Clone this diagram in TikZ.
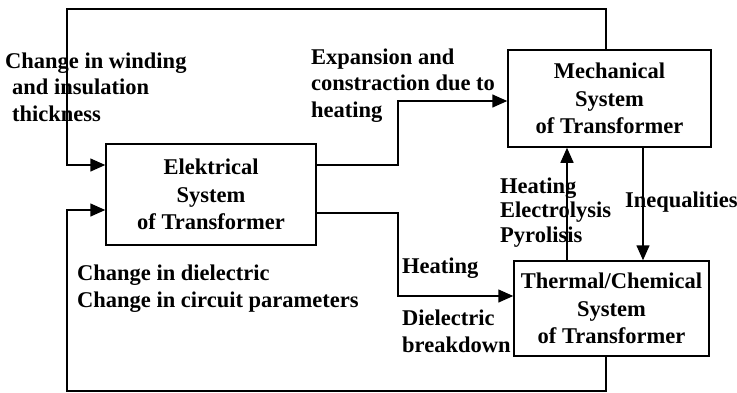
\documentclass[tikz,border=0pt]{standalone}
\usepackage{fontspec}
\setmainfont{Liberation Serif}
\usetikzlibrary{arrows.meta}
\tikzset{
  sysbox/.style={draw, line width=1.5pt, align=center, inner sep=0pt,
    font=\fontsize{22.5}{27.5}\selectfont\bfseries},
  lbl/.style={anchor=base west, align=left, inner sep=0pt,
    font=\fontsize{22.5}{26.5}\selectfont\bfseries},
  conn/.style={line width=1.5pt},
  arr/.style={conn, -{Triangle[length=15pt,width=13pt]}}
}
\begin{document}
\begin{tikzpicture}[x=1pt,y=-1pt]
\useasboundingbox (0,0) rectangle (737,392);
% boxes
\node[sysbox, minimum width=210pt, minimum height=101pt] (elek) at (211,194.5) {Elektrical\\System\\of Transformer};
\node[sysbox, minimum width=203pt, minimum height=97pt] (mech) at (609.5,98.5) {Mechanical\\System\\of Transformer};
\node[sysbox, minimum width=195pt, minimum height=95pt] (therm) at (611.5,308.5) {Thermal/Chemical\\System\\of Transformer};
% rails
\coordinate (topY) at (606,9);
\coordinate (botY) at (606,391);
\coordinate (leftX) at (67,0);
\coordinate (midX) at (398,0);
\coordinate (upX) at (567,0);
\coordinate (downX) at (643,0);
\coordinate (in1) at (0,165);
\coordinate (in2) at (0,210);
\coordinate (outA) at (0,165);
\coordinate (outB) at (0,213);
\coordinate (mechIn) at (0,101);
\coordinate (thIn) at (0,296);
% connectors
\draw[arr] (mech.north -| topY) -- (topY) -| (leftX |- in1) -- (elek.west |- in1);
\draw[arr] (therm.south -| botY) -- (botY) -| (leftX |- in2) -- (elek.west |- in2);
\draw[arr] (elek.east |- outA) -| (midX |- mechIn) -- (mech.west |- mechIn);
\draw[arr] (elek.east |- outB) -| (midX |- thIn) -- (therm.west |- thIn);
\draw[arr] (therm.north -| upX) -- (mech.south -| upX);
\draw[arr] (mech.south -| downX) -- (therm.north -| downX);
% labels (anchored at the baseline of their last line)
\node[lbl] (lwind) at (5,121) {Change in winding\\\hspace*{7pt}and insulation\\\hspace*{7pt}thickness};
\node[lbl] (lexp) at (311,117) {Expansion and\\constraction due to\\heating};
\node[lbl, font=\fontsize{22.5}{24.5}\selectfont\bfseries] (lheat) at (500,242) {Heating\\Electrolysis\\Pyrolisis};
\node[lbl] (lineq) at (625,207) {Inequalities};
\node[lbl] (lheat2) at (402,273) {Heating};
\node[lbl] (ldiel) at (402,352) {Dielectric\\breakdown};
\node[lbl] (lchg) at (77,307) {Change in dielectric\\Change in circuit parameters};
\end{tikzpicture}
\end{document}
